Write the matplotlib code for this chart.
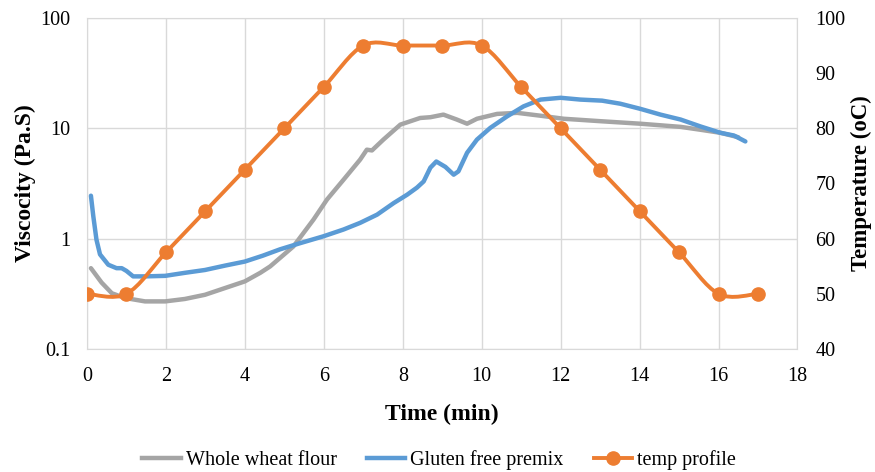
import numpy as np
import matplotlib
matplotlib.use("Agg")
import matplotlib.pyplot as plt
from matplotlib.path import Path
from matplotlib.patches import PathPatch
from matplotlib.lines import Line2D

plt.rcParams['font.family'] = ['Liberation Serif', 'DejaVu Serif']

# Viscosity of whole wheat flour (Pa.S) against time (min)
wheat_time = [0.10, 0.37, 0.63, 0.96, 1.47, 1.98, 2.48, 2.99, 3.50, 4.00, 4.39, 4.64,
              5.23, 5.74, 6.08, 6.50, 6.92, 7.09, 7.22, 7.51, 7.94, 8.44, 8.70, 9.03,
              9.37, 9.63, 9.88, 10.39, 10.90, 11.49, 12.08, 13.00, 14.02, 15.04,
              15.54, 16.05, 16.50]
wheat_visc = [0.54, 0.40, 0.32, 0.29, 0.27, 0.27, 0.284, 0.31, 0.357, 0.41, 0.49, 0.56,
              0.85, 1.49, 2.26, 3.42, 5.2, 6.4, 6.3, 7.9, 10.8, 12.4, 12.6, 13.3,
              12.0, 11.0, 12.2, 13.5, 13.8, 13.0, 12.2, 11.6, 11.0, 10.3,
              9.7, 9.1, 8.3]

# Viscosity of gluten free premix (Pa.S) against time (min)
premix_time = [0.10, 0.16, 0.24, 0.33, 0.54, 0.75, 0.88, 1.00, 1.17, 1.47, 1.98, 2.48,
               2.99, 3.50, 4.00, 4.45, 4.89, 5.40, 5.99, 6.50, 6.92, 7.35, 7.77, 8.11,
               8.36, 8.53, 8.70, 8.85, 9.08, 9.29, 9.41, 9.63, 9.88, 10.22, 10.64,
               11.06, 11.49, 12.00, 12.50, 13.05, 13.51, 14.02, 14.53, 15.04, 15.54,
               16.05, 16.39, 16.68]
premix_visc = [2.45, 1.6, 0.98, 0.72, 0.58, 0.54, 0.54, 0.51, 0.455, 0.455, 0.46, 0.49,
               0.52, 0.57, 0.62, 0.70, 0.80, 0.91, 1.05, 1.21, 1.39, 1.65, 2.1, 2.5,
               2.9, 3.3, 4.4, 5.0, 4.47, 3.8, 4.07, 6.0, 7.9, 10.1, 12.8,
               15.8, 18.2, 18.9, 18.2, 17.8, 16.7, 15.0, 13.3, 12.0, 10.4,
               9.1, 8.6, 7.6]

# Temperature profile (oC) at each minute
temp_time = [0, 1, 2, 3, 4, 5, 6, 7, 8, 9, 10, 11, 12, 13, 14, 15, 16, 17]
temp_vals = [50, 50, 57.5, 65, 72.5, 80, 87.5, 95, 95, 95, 95, 87.5, 80, 72.5, 65, 57.5, 50, 50]

GRAY = '#A5A5A5'
BLUE = '#5B9BD5'
ORANGE = '#ED7D31'
GRID = '#D9D9D9'


def smooth_path(xs, ys):
    # Bezier curve through the points, like a spreadsheet "smoothed line"
    pts = np.column_stack([xs, ys]).astype(float)
    ext = np.vstack([pts[0], pts, pts[-1]])
    verts = [pts[0]]
    codes = [Path.MOVETO]
    for i in range(len(pts) - 1):
        p0, p1, p2, p3 = ext[i], ext[i + 1], ext[i + 2], ext[i + 3]
        verts += [p1 + (p2 - p0) / 6, p2 - (p3 - p1) / 6, p2]
        codes += [Path.CURVE4] * 3
    return Path(verts, codes)


fig = plt.figure(figsize=(8.75, 4.72), dpi=100)
ax = fig.add_axes([0.0994, 0.2606, 0.8120, 0.7014])

ax.plot(wheat_time, wheat_visc, color=GRAY, lw=3.2, solid_capstyle='round', zorder=3)
ax.plot(premix_time, premix_visc, color=BLUE, lw=3.2, solid_capstyle='round', zorder=3)

ax.set_yscale('log')
ax.set_ylim(0.1, 100)
ax.set_xlim(0, 18)
ax.set_xticks(range(0, 19, 2))
ax.set_yticks([0.1, 1, 10, 100])
ax.set_yticklabels(['0.1', '1', '10', '100'])
ax.minorticks_off()
ax.grid(True, color=GRID, lw=1)
ax.set_axisbelow(True)
ax.tick_params(axis='y', length=0, labelsize=14.5, pad=12)
ax.tick_params(axis='x', length=0, labelsize=14.5, pad=13)
for s in ax.spines.values():
    s.set_color(GRID)

ax.set_xlabel('Time (min)', fontsize=17, fontweight='bold', labelpad=13)
ax.set_ylabel('Viscocity (Pa.S)', fontsize=17, fontweight='bold', labelpad=3)

ax2 = ax.twinx()
ax2.set_ylim(40, 100)
ax2.set_yticks(range(40, 101, 10))
ax2.tick_params(length=0, labelsize=14.5, pad=13)
for s in ax2.spines.values():
    s.set_visible(False)
ax2.set_ylabel('Temperature (oC)', fontsize=16.5, fontweight='bold', labelpad=4)

ax2.add_patch(PathPatch(smooth_path(temp_time, temp_vals), facecolor='none',
                        edgecolor=ORANGE, lw=2.8, zorder=4))
ax2.plot(temp_time, temp_vals, ls='none', marker='o', ms=9.5, color=ORANGE, zorder=5)

handles = [Line2D([], [], color=GRAY, lw=3.2),
           Line2D([], [], color=BLUE, lw=3.2),
           Line2D([], [], color=ORANGE, lw=2.8, marker='o', ms=9.5)]
fig.legend(handles, ['Whole wheat flour', 'Gluten free premix', 'temp profile'],
           loc='center', bbox_to_anchor=(0.502, 0.026), ncol=3, frameon=False,
           fontsize=14.5, handlelength=1.9, handletextpad=0.25, columnspacing=1.5)

fig.savefig('out.png', dpi=100)
